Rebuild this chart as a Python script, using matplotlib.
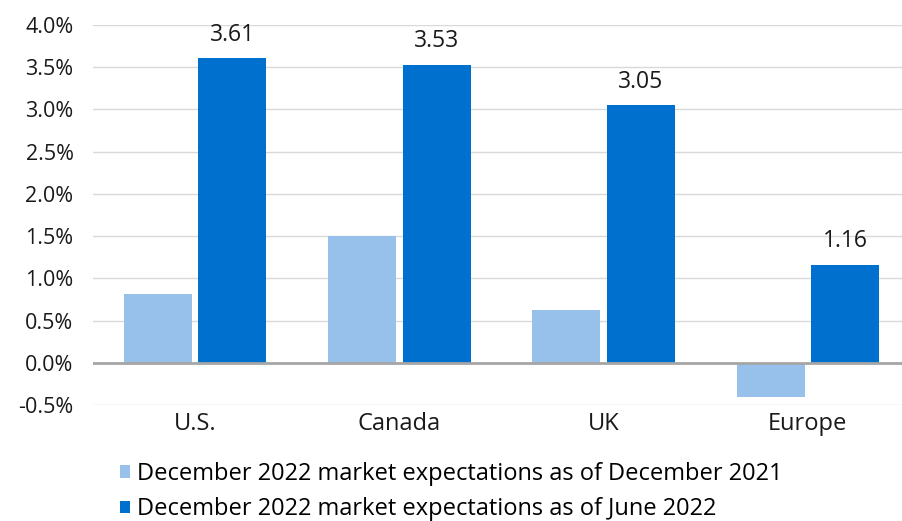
import matplotlib
matplotlib.use("Agg")
import matplotlib.pyplot as plt
import numpy as np
from matplotlib.ticker import FuncFormatter

categories = ["U.S.", "Canada", "UK", "Europe"]
dec2021 = [0.82, 1.50, 0.63, -0.40]
jun2022 = [3.61, 3.53, 3.05, 1.16]
series_labels = ["December 2022 market expectations as of December 2021",
                 "December 2022 market expectations as of June 2022"]

light = "#97C1EA"
dark = "#0070CE"

plt.rcParams['font.family'] = ['Open Sans', 'DejaVu Sans']

fig = plt.figure(figsize=(9.03, 5.21), dpi=100)
W, H = 903, 521
ax = fig.add_axes([93 / W, (H - 405) / H, (903 - 93) / W, (405 - 25) / H])

x = np.arange(len(categories))
bw = 0.333
off = 0.182
b1 = ax.bar(x - off, dec2021, bw, color=light, label=series_labels[0], zorder=2)
b2 = ax.bar(x + off, jun2022, bw, color=dark, label=series_labels[1], zorder=2)

for xi, v in zip(x + off, jun2022):
    ax.annotate(f"{v:.2f}", (xi, v), xytext=(0, 12.5), textcoords="offset points",
                ha="center", va="baseline", fontsize=16.5, color="#1a1a1a")

ax.set_ylim(-0.5, 4.0)
ax.set_xlim(-0.5, 3.466)
ax.set_yticks(np.arange(-0.5, 4.01, 0.5))
ax.yaxis.set_major_formatter(FuncFormatter(lambda v, p: f"{v:.1f}%"))
ax.grid(axis="y", color="#D9D9D9", linewidth=1, zorder=0)
ax.axhline(0, color="#A6A6A6", linewidth=2, zorder=3)
for s in ax.spines.values():
    s.set_visible(False)
ax.set_xticks(x)
ax.set_xticklabels(categories)
ax.tick_params(axis="both", length=0, colors="#1a1a1a")
ax.tick_params(axis="y", pad=14, labelsize=15.5)
ax.tick_params(axis="x", pad=5, labelsize=17)

leg = fig.legend(handles=[b1, b2], labels=series_labels, loc="upper left",
                 bbox_to_anchor=(120 / W, (H - 462) / H), frameon=False,
                 fontsize=17, handlelength=0.42, handleheight=0.42,
                 handletextpad=0.3, labelspacing=0.47, borderaxespad=0,
                 borderpad=0)

fig.savefig("out.png", dpi=100)
